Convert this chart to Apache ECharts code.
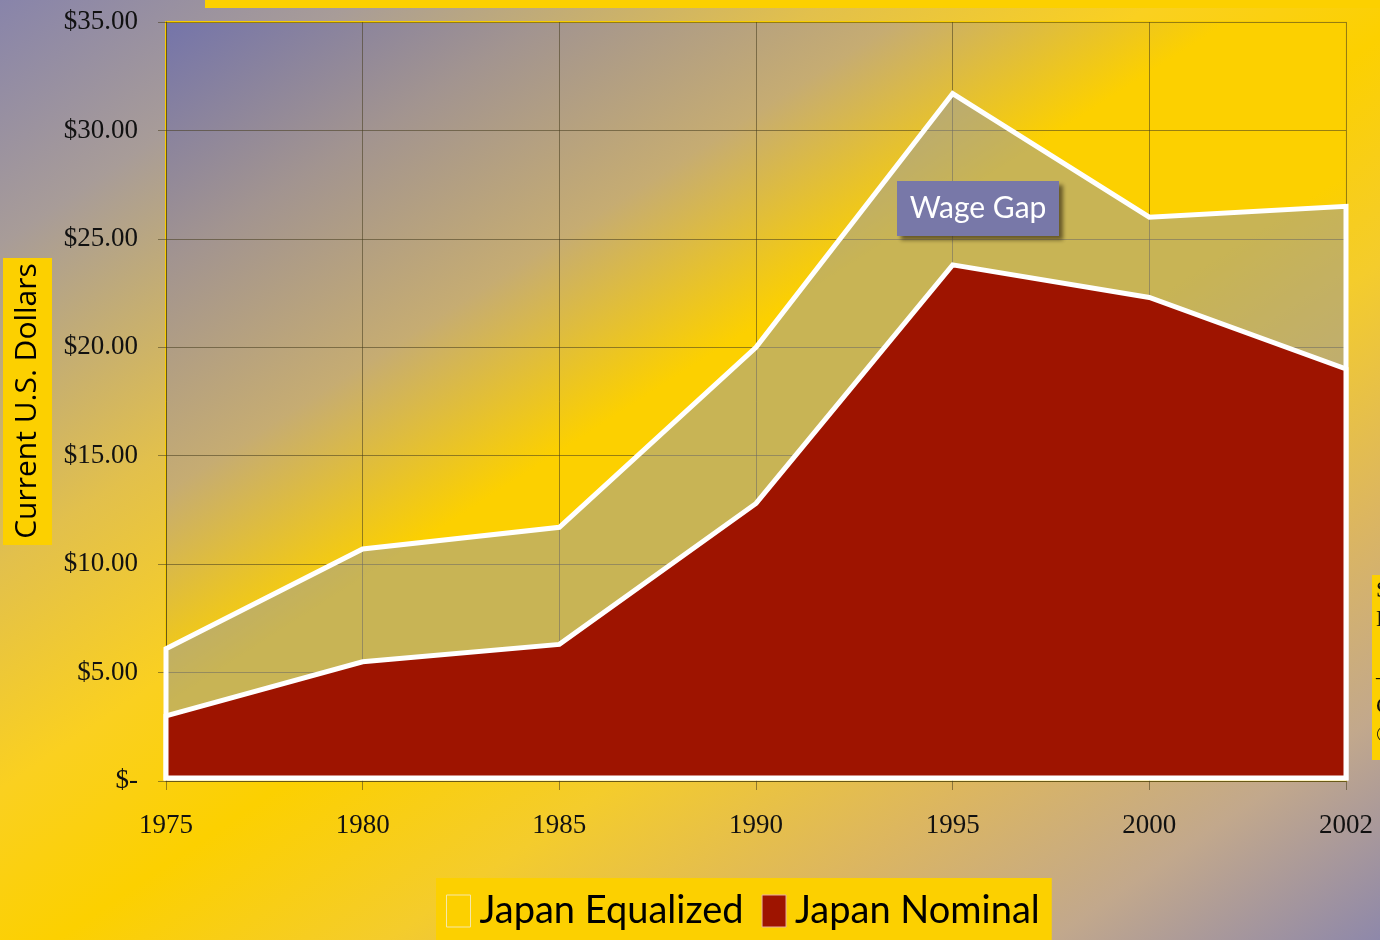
<!DOCTYPE html>
<html>
<head>
<meta charset="utf-8">
<script src="https://cdn.jsdelivr.net/npm/echarts@6/dist/echarts.min.js"></script>
<style>
  html, body { margin: 0; padding: 0; }
  #chart {
    width: 1380px; height: 940px;
    background: linear-gradient(to bottom right, #8884aa 0%, #a89c98 13%, #e2c04c 30%, #fad020 42%, #fcd000 52%, #f4cc2c 64%, #dcb660 77%, #c2a88c 88%, #8e88aa 100%);
  }
</style>
</head>
<body>
<div id="chart"></div>
<script>
// values
const years = ['1975', '1980', '1985', '1990', '1995', '2000', '2002'];
const japanEqualized = [6.1, 10.7, 11.7, 20.0, 31.7, 26.0, 26.5];
const japanNominal = [3.0, 5.5, 6.3, 12.8, 23.8, 22.3, 19.0];

const chart = echarts.init(document.getElementById('chart'));

// excel style area: filled polygon with white outline all round
function areaSeries(name, values, fill, z) {
    return {
        type: 'custom',
        name: name,
        z: z,
        data: values.map((v, i) => [i, v]),
        encode: { x: 0, y: 1 },
        itemStyle: { color: fill },
        renderItem(params, api) {
            if (params.dataIndex !== 0) return null;
            const pts = values.map((v, i) => api.coord([i, v]));
            const last = values.length - 1;
            const b1 = api.coord([last, 0]);
            const b0 = api.coord([0, 0]);
            pts.push([b1[0], b1[1] - 3]);
            pts.push([b0[0], b0[1] - 3]);
            return {
                type: 'polygon',
                shape: { points: pts },
                style: { fill: fill, stroke: '#ffffff', lineWidth: 5, lineJoin: 'miter' }
            };
        }
    };
}

const plotBg = new echarts.graphic.LinearGradient(0, 0, 0.585, 1.414, [
    { offset: 0, color: '#7474aa' },
    { offset: 0.16, color: '#a29490' },
    { offset: 0.31, color: '#c6ac72' },
    { offset: 0.45, color: '#fcd000' },
    { offset: 0.6, color: '#fcd000' },
    { offset: 0.85, color: '#dcb866' },
    { offset: 1, color: '#a898a0' }
]);

const gridLine = 'rgba(70,60,30,0.55)';

chart.setOption({
    backgroundColor: 'transparent',
    animation: false,
    grid: {
        left: 166, top: 22, width: 1180, height: 759,
        show: true,
        backgroundColor: plotBg,
        borderColor: '#f8cc00',
        borderWidth: 2
    },
    legend: {
        left: 436, top: 878,
        backgroundColor: '#fcd000',
        padding: [14, 12, 16, 10],
        itemGap: 18,
        itemWidth: 24,
        itemHeight: 32,
        icon: 'rect',
        textStyle: {
            fontFamily: 'Lato, sans-serif',
            fontSize: 38,
            color: '#000',
            padding: [0, 0, 0, 4]
        },
        data: [
            { name: 'Japan Equalized', itemStyle: { color: '#fcd000', borderColor: '#f6e8a8', borderWidth: 1 } },
            { name: 'Japan Nominal', itemStyle: { color: '#9e1400', borderColor: '#e8b0a0', borderWidth: 1 } }
        ]
    },
    xAxis: {
        type: 'category',
        data: years,
        boundaryGap: false,
        axisLine: { lineStyle: { color: gridLine } },
        axisTick: { show: true, length: 9, lineStyle: { color: gridLine } },
        axisLabel: {
            margin: 31,
            fontFamily: '"Liberation Serif", serif',
            fontSize: 27,
            color: '#111'
        },
        splitLine: { show: true, lineStyle: { color: gridLine, width: 1 } }
    },
    yAxis: {
        type: 'value',
        min: 0, max: 35, interval: 5,
        axisLine: { show: true, lineStyle: { color: gridLine } },
        axisTick: { show: true, length: 8, lineStyle: { color: gridLine } },
        axisLabel: {
            margin: 28,
            fontFamily: '"Liberation Serif", serif',
            fontSize: 27,
            color: '#111',
            formatter: v => v === 0 ? '$-' : '$' + v.toFixed(2)
        },
        splitLine: { show: true, lineStyle: { color: gridLine, width: 1 } }
    },
    series: [
        areaSeries('Japan Equalized', japanEqualized, 'rgba(148,152,170,0.5)', 2),
        areaSeries('Japan Nominal', japanNominal, '#9e1400', 3)
    ],
    graphic: [
        // yellow strip on top
        { type: 'rect', left: 205, top: 0, shape: { width: 1175, height: 8 }, style: { fill: '#fcd000' } },
        // axis title box
        { type: 'rect', left: 3, top: 258, shape: { width: 49, height: 287 }, style: { fill: '#fcd000' } },
        {
            type: 'text', x: 27, y: 401, rotation: Math.PI / 2,
            style: {
                text: 'Current U.S. Dollars',
                fontFamily: '"Open Sans", sans-serif', fontSize: 30,
                fill: '#000', align: 'center', verticalAlign: 'middle'
            }
        },
        // wage gap label
        {
            type: 'rect', left: 897, top: 181, z: 10,
            shape: { width: 162, height: 55 },
            style: {
                fill: '#7878a8',
                shadowBlur: 4, shadowOffsetX: 4, shadowOffsetY: 4,
                shadowColor: 'rgba(40,30,10,0.6)'
            }
        },
        {
            type: 'text', x: 978, y: 208, z: 11,
            style: {
                text: 'Wage Gap',
                fontFamily: 'Lato, sans-serif', fontSize: 30,
                fill: '#fff', align: 'center', verticalAlign: 'middle'
            }
        },
        // cut-off note box at the right edge
        { type: 'rect', left: 1372, top: 575, shape: { width: 8, height: 185 }, style: { fill: '#fcd000' } },
        {
            type: 'text', x: 1376, y: 576,
            style: {
                text: 'S\nE\n\n–\nC\n©',
                fontFamily: '"Liberation Serif", serif', fontSize: 24,
                lineHeight: 29, fill: '#111'
            }
        }
    ]
});
</script>
</body>
</html>
